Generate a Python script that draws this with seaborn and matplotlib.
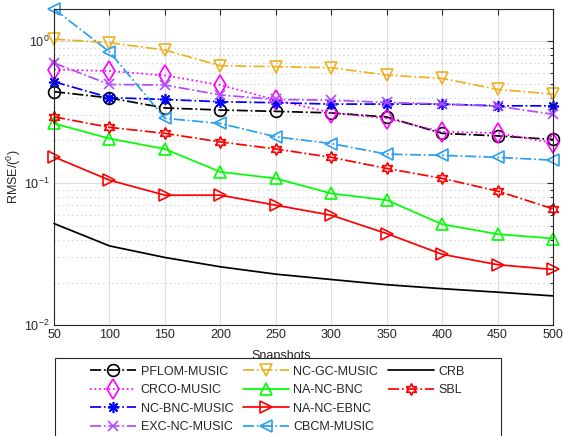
import matplotlib as mpl
mpl.use('Agg')
import matplotlib.pyplot as plt
from matplotlib.lines import Line2D
from matplotlib.patches import Rectangle
import seaborn as sns

snapshots = [50, 100, 150, 200, 250, 300, 350, 400, 450, 500]

pflom_music = [0.440, 0.398, 0.338, 0.327, 0.320, 0.312, 0.292, 0.224, 0.215, 0.203]
crco_music = [0.630, 0.615, 0.573, 0.490, 0.385, 0.313, 0.285, 0.230, 0.225, 0.192]
nc_bnc_music = [0.517, 0.400, 0.388, 0.374, 0.368, 0.360, 0.360, 0.360, 0.350, 0.350]
exc_nc_music = [0.700, 0.495, 0.490, 0.417, 0.388, 0.384, 0.370, 0.360, 0.348, 0.305]
nc_gc_music = [1.030, 0.973, 0.864, 0.670, 0.660, 0.649, 0.576, 0.546, 0.457, 0.423]
na_nc_bnc = [0.263, 0.206, 0.174, 0.120, 0.108, 0.0846, 0.076, 0.0514, 0.0438, 0.0408]
na_nc_ebnc = [0.153, 0.105, 0.0823, 0.0823, 0.070, 0.0595, 0.0442, 0.0316, 0.0267, 0.0247]
cbcm_music = [1.680, 0.840, 0.286, 0.263, 0.212, 0.190, 0.160, 0.157, 0.152, 0.145]
crb = [0.052, 0.0362, 0.030, 0.0258, 0.0229, 0.021, 0.0193, 0.0181, 0.0171, 0.0161]
sbl = [0.293, 0.247, 0.224, 0.195, 0.174, 0.152, 0.127, 0.108, 0.088, 0.066]

# (label, values, colour, linestyle, marker, markersize) -- legend order, column by column
series = [
    ('PFLOM-MUSIC', pflom_music, 'black', '-.', 'o', 8.5),
    ('CRCO-MUSIC', crco_music, '#ff00ff', ':', 'd', 10),
    ('NC-BNC-MUSIC', nc_bnc_music, '#0000ff', '-.', (8, 2, 0), 8),
    ('EXC-NC-MUSIC', exc_nc_music, '#b24dff', '-.', 'x', 7),
    ('NC-GC-MUSIC', nc_gc_music, '#edb120', '-.', 'v', 9),
    ('NA-NC-BNC', na_nc_bnc, '#00ff00', '-', '^', 9),
    ('NA-NC-EBNC', na_nc_ebnc, '#ff0000', '-', '>', 9),
    ('CBCM-MUSIC', cbcm_music, '#2a9ff0', '-.', '<', 9),
    ('CRB', crb, 'black', '-', None, 8),
    ('SBL', sbl, '#ff0000', '-.', (6, 1, 0), 8.5),
]

sns.set_theme(style='white')
plt.rcParams['font.family'] = ['Liberation Sans', 'DejaVu Sans']
plt.rcParams['mathtext.default'] = 'regular'
plt.rcParams['font.size'] = 9

fig = plt.figure(figsize=(5.63, 4.36), dpi=100)
ax = fig.add_axes([54 / 563, 1 - 325.3 / 436, 499 / 563, (325.3 - 9) / 436])

for label, vals, color, ls, marker, ms in series:
    sns.lineplot(x=snapshots, y=vals, ax=ax, color=color, linestyle=ls, linewidth=1.25,
                 marker=marker, markersize=ms, markerfacecolor='none',
                 markeredgecolor=color, markeredgewidth=1.2, label=label, clip_on=False)

ax.set_yscale('log')
ax.set_xlim(50, 500)
ax.set_ylim(0.01, 1.68)
ax.set_xticks(snapshots)
ax.get_legend().remove()

ax.grid(True, which='major', color='#dedede', linewidth=0.8, linestyle='-')
ax.grid(True, which='minor', axis='y', color='#c8c8c8', linewidth=0.8, linestyle=(0, (1, 3)))
ax.set_axisbelow(True)
ax.tick_params(which='both', direction='in', top=True, right=True, colors='#262626',
               labelsize=9, pad=3)
ax.tick_params(which='major', length=4.5, width=0.8)
ax.tick_params(which='minor', length=2.5, width=0.8)
for sp in ax.spines.values():
    sp.set_color('#262626')
    sp.set_linewidth(0.8)

ax.set_ylabel('RMSE/($^0$)', fontsize=9, color='#262626')
ax.yaxis.set_label_coords(-0.062, 0.47)
fig.text(0.5, 1 - 355.5 / 436, 'Snapshots', ha='center', va='center', fontsize=9,
         color='#262626', zorder=1)

# legend box sits below the axes and covers the bottom of the x label
box = Rectangle((54.5 / 563, -0.05), 446.5 / 563, (436 - 358.3) / 436 + 0.05,
                transform=fig.transFigure, facecolor='white', edgecolor='#262626',
                linewidth=0.8, zorder=5)
fig.patches.append(box)

# 4 + 4 + 2 entries per column: pad the last column with blank entries
handles, labels = ax.get_legend_handles_labels()
for _ in range(2):
    handles.append(Line2D([], [], linestyle='none', marker=None))
    labels.append('')
leg = fig.legend(handles, labels, ncol=3, loc='upper left',
                 bbox_to_anchor=(90 / 563, 1 - 365.5 / 436), frameon=False,
                 fontsize=9, handlelength=3.7, handletextpad=0.35, columnspacing=0.75,
                 labelspacing=0.52, borderpad=0, borderaxespad=0)
leg.set_zorder(6)

fig.savefig('out.png', dpi=100)
